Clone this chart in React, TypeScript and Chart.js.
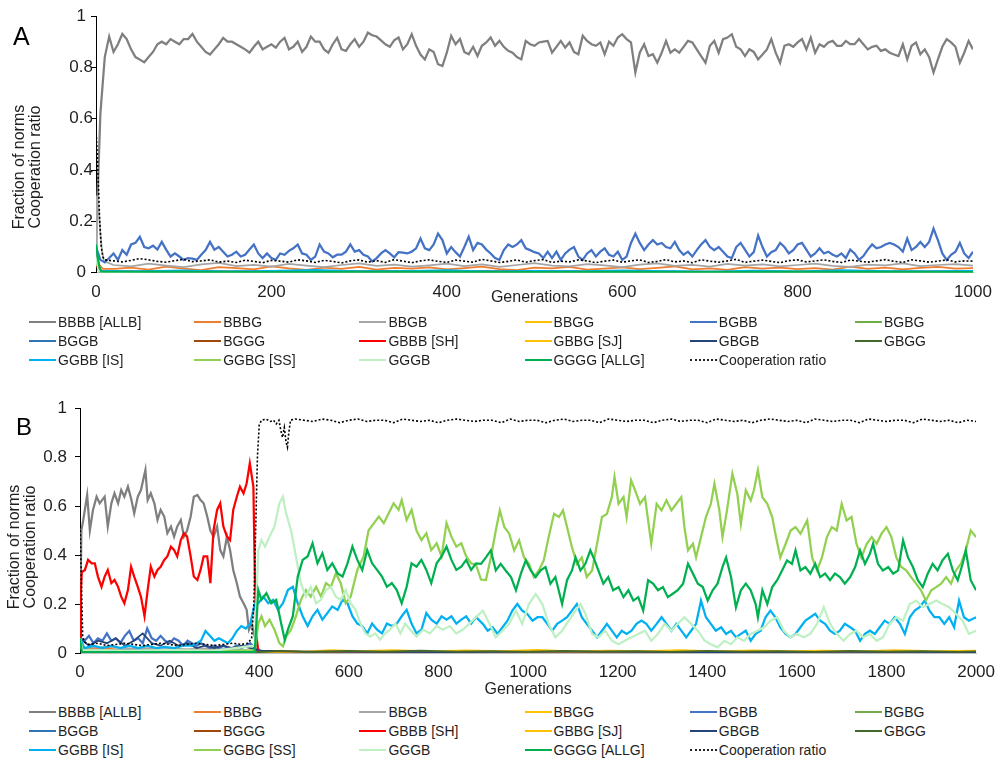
import React, { useEffect, useRef } from "react";
import { Chart, registerables } from "chart.js";
Chart.register(...registerables);

type P = [number, number];
const FONT = '"Liberation Sans", Arial, sans-serif';
const TXT = "#1f1f1f";

// ---------------- Norm names / colours ----------------
const NORM_LABELS = ["BBBB [ALLB]", "BBBG", "BBGB", "BBGG", "BGBB", "BGBG", "BGGB", "BGGG", "GBBB [SH]", "GBBG [SJ]", "GBGB", "GBGG", "GGBB [IS]", "GGBG [SS]", "GGGB", "GGGG [ALLG]"];
const NORM_COLORS = ["#7f7f7f", "#ed7d31", "#a5a5a5", "#ffc000", "#4472c4", "#70ad47", "#2e75b6", "#9e480e", "#ff0000", "#ffc000", "#264478", "#43682b", "#00b0f0", "#92d050", "#bff0c4", "#00b050"];
const COOP_LABEL = "Cooperation ratio";
const X_TICK_STEP = 200;
const Y_TICK_STEP = 0.2;

// ---------------- Panel A data (generations 0..1000) ----------------
// BBBB [ALLB], every 5 generations from 0
const allbA = [
  .12,.62,.84,.92,.86,.89,.93,.91,.87,.84,
  .83,.82,.84,.86,.89,.9,.89,.91,.9,.89,
  .91,.91,.93,.9,.88,.86,.85,.87,.89,.915,
  .9,.9,.89,.88,.87,.857,.88,.9,.87,.88,
  .89,.877,.9,.915,.87,.88,.9,.86,.88,.92,
  .9,.9,.87,.857,.89,.915,.87,.864,.89,.91,
  .88,.9,.935,.925,.92,.905,.89,.88,.905,.916,
  .87,.89,.929,.884,.85,.831,.87,.86,.812,.805,
  .857,.923,.89,.91,.86,.851,.88,.844,.884,.897,
  .916,.884,.903,.88,.864,.857,.84,.831,.903,.89,
  .884,.897,.9,.903,.857,.88,.903,.877,.897,.86,
  .851,.923,.903,.89,.884,.897,.851,.9,.884,.916,
  .929,.91,.897,.78,.857,.89,.844,.851,.818,.857,
  .903,.857,.87,.857,.88,.903,.897,.87,.844,.818,
  .884,.903,.857,.91,.916,.929,.88,.87,.844,.87,
  .86,.831,.85,.87,.91,.857,.818,.884,.89,.88,
  .897,.91,.87,.916,.857,.89,.88,.897,.903,.884,
  .884,.903,.89,.89,.91,.89,.87,.88,.884,.864,
  .87,.857,.85,.844,.89,.831,.884,.897,.851,.87,
  .84,.78,.831,.88,.91,.897,.88,.818,.857,.903,
  .87];
// BGBB, every 5 generations from 0
const bgbbA = [
  .10,.05,.04,.057,.075,.05,.088,.07,.11,.116,
  .14,.10,.095,.105,.09,.12,.09,.063,.075,.063,
  .05,.057,.055,.05,.07,.088,.12,.09,.10,.082,
  .063,.07,.082,.063,.07,.09,.11,.075,.057,.075,
  .057,.05,.075,.07,.085,.095,.11,.075,.07,.05,
  .063,.11,.082,.075,.06,.07,.07,.082,.11,.082,
  .088,.07,.063,.044,.057,.075,.088,.075,.06,.08,
  .078,.075,.082,.095,.133,.095,.088,.11,.152,.127,
  .075,.10,.08,.063,.10,.14,.088,.116,.11,.09,
  .075,.057,.05,.088,.11,.10,.11,.127,.095,.088,
  .08,.075,.057,.082,.057,.082,.05,.075,.09,.10,
  .063,.05,.075,.088,.063,.082,.095,.07,.063,.082,
  .05,.063,.116,.152,.116,.088,.11,.127,.11,.116,
  .10,.095,.12,.088,.07,.082,.063,.088,.11,.127,
  .10,.088,.10,.082,.063,.057,.10,.116,.09,.063,
  .08,.145,.10,.063,.08,.088,.116,.10,.075,.088,
  .11,.116,.09,.063,.075,.095,.075,.082,.07,.063,
  .075,.057,.09,.075,.05,.065,.09,.11,.095,.10,
  .11,.116,.11,.10,.082,.133,.088,.10,.12,.10,
  .12,.172,.127,.075,.05,.07,.082,.116,.075,.057,
  .082];
// Cooperation ratio: start, then every 10 generations from 10
const coopHeadA: P[] = [[0,.56],[2,.42],[4,.22],[6,.1],[8,.06]];
const coopA = [
  .05,.046,.042,.048,.055,.05,.044,.041,.047,.052,
  .043,.046,.05,.041,.045,.04,.049,.044,.039,.048,
  .045,.041,.05,.046,.04,.048,.044,.038,.046,.05,
  .041,.047,.04,.051,.045,.039,.046,.05,.044,.04,
  .049,.045,.041,.052,.046,.04,.044,.05,.041,.047,
  .051,.04,.045,.042,.05,.046,.039,.045,.049,.041,
  .046,.05,.04,.044,.051,.042,.046,.039,.05,.045,
  .041,.046,.052,.04,.045,.049,.044,.039,.047,.05,
  .042,.046,.05,.044,.04,.049,.045,.041,.046,.051,
  .044,.04,.05,.046,.041,.045,.05,.042,.046,.045];
// BBGB: start, then every 20 generations from 20
const bbgbHeadA: P[] = [[0,.06],[1,.3],[3,.25],[5,.15],[7,.08],[9,.045]];
const bbgbA = [
  .03,.025,.035,.028,.022,.032,.038,.026,.03,.024,
  .034,.028,.022,.03,.036,.027,.031,.024,.029,.035,
  .026,.032,.023,.03,.037,.028,.025,.033,.029,.022,
  .031,.036,.027,.03,.024,.034,.028,.032,.025,.03,
  .035,.027,.023,.031,.029,.036,.026,.03,.033,.028];
// BBBG: start, then every 20 generations from 20
const bbbgHeadA: P[] = [[0,.06],[4,.03],[8,.015]];
const bbbgA = [
  .015,.02,.012,.024,.016,.01,.022,.018,.013,.025,
  .017,.011,.02,.015,.023,.012,.019,.016,.021,.013,
  .018,.024,.014,.01,.02,.017,.023,.012,.016,.021,
  .014,.019,.025,.013,.017,.011,.022,.016,.02,.014,
  .018,.012,.024,.015,.02,.013,.019,.023,.016,.018];
// GGBB: start, then every 50 generations from 50
const ggbbHeadA: P[] = [[0,.06],[3,.02],[6,.006]];
const ggbbA = [.004,.008,.003,.006,.01,.004,.005,.009,.003,.006,.004,.008,.005,.003,.007,.004,.009,.005,.004,.006];
// GGGG: start, then every 100 generations from 100
const ggggHeadA: P[] = [[0,.11],[2,.06],[4,.02],[6,.004]];
const ggggA = [.003,.002,.003,.003,.002,.003,.002,.003,.003,.002];
// other near-zero norms (generation, fraction)
const bbggA: P[] = [[0,.06],[3,.02],[6,.004],[200,.003],[400,.004],[600,.003],[800,.004],[1000,.003]];
const bgbgA: P[] = [[0,.06],[3,.015],[6,.003],[300,.002],[600,.003],[1000,.002]];
const bggbA: P[] = [[0,.06],[3,.025],[6,.006],[250,.005],[500,.006],[750,.004],[1000,.005]];
const bgggA: P[] = [[0,.06],[3,.015],[6,.003],[500,.002],[1000,.003]];
const gbbbA: P[] = [[0,.06],[2,.02],[5,.003],[500,.002],[1000,.002]];
const gbbgA: P[] = [[0,.06],[3,.015],[6,.003],[500,.003],[1000,.002]];
const gbgbA: P[] = [[0,.06],[3,.02],[6,.004],[300,.004],[700,.003],[1000,.004]];
const gbggA: P[] = [[0,.06],[3,.015],[6,.003],[500,.002],[1000,.003]];
const ggbgA: P[] = [[0,.06],[3,.01],[6,.002],[1000,.002]];
const gggbA: P[] = [[0,.06],[3,.01],[6,.002],[1000,.002]];

// ---------------- Panel B data (generations 0..2000) ----------------
const allbB: P[] = [[0,.06],[3,.5],[7,.54],[16,.645],[22,.5],[29,.584],[37,.638],[44,.611],[55,.638],[62,.516],[70,.611],[77,.652],[85,.611],[92,.665],[99,.638],[107,.679],[114,.631],[121,.57],[129,.638],[136,.665],[146,.747],[151,.624],[158,.652],[166,.611],[173,.543],[180,.584],[188,.557],[195,.489],[203,.516],[210,.475],[217,.516],[225,.543],[232,.475],[239,.5],[247,.557],[254,.638],[262,.645],[269,.624],[276,.611],[284,.557],[291,.5],[298,.475],[306,.516],[313,.42],[320,.394],[328,.475],[335,.42],[342,.339],[350,.285],[357,.23],[365,.203],[372,.176],[377,.095],[383,.12],[390,.067],[398,.014],[410,.005],[600,.003],[1000,.004],[1400,.003],[2000,.003]];
const shB: P[] = [[0,.06],[2,.25],[4,.33],[11,.339],[18,.38],[26,.366],[33,.366],[40,.312],[48,.27],[55,.312],[62,.339],[70,.285],[77,.298],[85,.27],[92,.23],[99,.203],[107,.257],[114,.352],[121,.312],[129,.27],[136,.23],[144,.15],[151,.257],[158,.352],[166,.312],[173,.339],[180,.352],[188,.38],[195,.394],[203,.434],[210,.42],[217,.394],[225,.461],[232,.489],[239,.475],[247,.394],[254,.312],[262,.298],[269,.339],[276,.394],[284,.394],[291,.285],[298,.5],[306,.584],[313,.611],[320,.516],[328,.475],[335,.461],[342,.584],[350,.638],[357,.679],[365,.652],[372,.693],[379,.774],[387,.679],[390,.339],[394,.067],[398,.005],[500,.003],[1000,.002],[1500,.003],[2000,.002]];
const coopHeadB: P[] = [[0,.55],[3,.3],[6,.07],[10,.045],[20,.035],[40,.04],[60,.03],[80,.035],[100,.04],[120,.035],[140,.03],[160,.035],[180,.04],[200,.035],[220,.03],[240,.035],[260,.04],[280,.035],[300,.03],[320,.035],[340,.04],[360,.035],[375,.04],[383,.06],[388,.2],[392,.5],[396,.8],[400,.93],[405,.95],[415,.955],[425,.945],[432,.95],[438,.935],[444,.95],[448,.91],[452,.88],[456,.92],[460,.86],[463,.84],[466,.9],[470,.95],[480,.955]];
// cooperation ratio every 20 generations from 500
const coopB = [
  .95,.945,.955,.95,.94,.95,.955,.945,.95,.95,
  .94,.955,.95,.945,.95,.94,.95,.955,.95,.945,
  .95,.95,.94,.955,.945,.95,.95,.94,.95,.955,
  .945,.95,.95,.94,.955,.95,.945,.95,.95,.94,
  .95,.955,.945,.95,.95,.94,.955,.95,.945,.95,
  .94,.95,.955,.95,.945,.95,.94,.955,.95,.945,
  .95,.95,.94,.955,.95,.945,.95,.95,.94,.955,
  .95,.945,.95,.94,.95,.945];
const ssB: P[] = [[0,.06],[5,.012],[100,.008],[200,.01],[300,.008],[390,.012],[398,.12],[405,.15],[413,.11],[423,.136],[434,.095],[445,.04],[453,.027],[460,.067],[471,.095],[482,.15],[493,.217],[504,.257],[515,.23],[527,.27],[538,.23],[549,.285],[560,.27],[571,.325],[582,.285],[593,.203],[604,.23],[619,.339],[633,.394],[644,.5],[656,.53],[667,.557],[678,.53],[689,.57],[700,.611],[711,.584],[718,.624],[729,.543],[740,.584],[751,.5],[762,.461],[773,.489],[784,.42],[796,.448],[807,.394],[818,.53],[829,.475],[840,.434],[851,.448],[862,.394],[873,.366],[884,.36],[895,.3],[906,.298],[917,.39],[928,.5],[937,.582],[947,.514],[958,.487],[969,.419],[980,.46],[991,.39],[1002,.364],[1013,.31],[1024,.337],[1035,.378],[1046,.473],[1058,.568],[1069,.555],[1078,.582],[1087,.514],[1098,.432],[1109,.364],[1120,.39],[1131,.31],[1143,.337],[1154,.446],[1165,.555],[1176,.568],[1187,.636],[1193,.718],[1202,.609],[1213,.636],[1220,.555],[1230,.705],[1239,.664],[1250,.609],[1261,.636],[1268,.541],[1275,.446],[1287,.609],[1298,.582],[1309,.623],[1320,.582],[1331,.609],[1342,.636],[1349,.514],[1357,.419],[1368,.446],[1375,.39],[1386,.473],[1397,.555],[1408,.609],[1416,.691],[1427,.582],[1434,.473],[1444,.582],[1456,.732],[1467,.65],[1475,.527],[1486,.664],[1497,.623],[1504,.664],[1513,.746],[1523,.636],[1534,.609],[1545,.555],[1552,.487],[1563,.39],[1575,.446],[1586,.5],[1597,.514],[1608,.487],[1623,.541],[1634,.39],[1645,.337],[1656,.39],[1667,.473],[1678,.514],[1689,.5],[1700,.609],[1711,.541],[1722,.555],[1733,.446],[1744,.39],[1756,.446],[1767,.473],[1778,.446],[1789,.487],[1800,.514],[1811,.473],[1822,.39],[1833,.351],[1844,.337],[1855,.31],[1866,.283],[1877,.256],[1888,.214],[1900,.256],[1911,.269],[1922,.283],[1933,.31],[1944,.283],[1955,.337],[1966,.364],[1977,.419],[1988,.5],[2000,.473]];
const allgB: P[] = [[0,.06],[4,.005],[390,.004],[398,.257],[405,.217],[416,.244],[427,.203],[438,.217],[449,.12],[457,.054],[464,.095],[475,.15],[486,.312],[497,.38],[508,.394],[519,.448],[530,.366],[541,.407],[552,.339],[563,.366],[575,.325],[586,.312],[597,.366],[608,.434],[619,.38],[630,.339],[641,.42],[652,.366],[663,.339],[674,.312],[685,.27],[696,.285],[707,.257],[718,.203],[729,.27],[740,.366],[751,.352],[762,.38],[773,.339],[784,.285],[796,.366],[807,.394],[818,.434],[829,.38],[840,.339],[851,.352],[862,.38],[873,.339],[884,.366],[895,.364],[906,.39],[917,.419],[928,.337],[939,.364],[950,.337],[962,.31],[973,.256],[984,.324],[995,.378],[1006,.337],[1017,.31],[1028,.337],[1039,.351],[1050,.283],[1061,.31],[1076,.2],[1087,.297],[1098,.337],[1106,.39],[1117,.337],[1128,.364],[1139,.419],[1146,.39],[1157,.337],[1168,.283],[1179,.31],[1190,.256],[1202,.269],[1213,.228],[1224,.256],[1235,.214],[1246,.228],[1257,.173],[1268,.297],[1279,.283],[1290,.256],[1301,.269],[1312,.228],[1323,.242],[1334,.256],[1346,.283],[1357,.364],[1368,.324],[1379,.283],[1390,.269],[1401,.214],[1412,.256],[1423,.283],[1434,.351],[1442,.39],[1453,.31],[1464,.186],[1475,.256],[1486,.283],[1497,.256],[1508,.2],[1513,.146],[1523,.256],[1534,.2],[1545,.269],[1556,.297],[1567,.337],[1578,.378],[1589,.364],[1597,.419],[1608,.337],[1619,.351],[1630,.324],[1641,.364],[1652,.31],[1663,.324],[1674,.297],[1685,.324],[1696,.31],[1707,.283],[1719,.31],[1730,.351],[1741,.419],[1752,.364],[1763,.405],[1770,.446],[1781,.364],[1792,.337],[1804,.351],[1815,.324],[1826,.337],[1837,.46],[1848,.39],[1859,.351],[1870,.297],[1881,.269],[1892,.324],[1903,.364],[1914,.337],[1925,.378],[1937,.405],[1948,.337],[1959,.297],[1970,.364],[1977,.419],[1988,.297],[2000,.256]];
const isB: P[] = [[0,.06],[10,.02],[30,.03],[50,.02],[70,.03],[90,.02],[110,.03],[130,.02],[150,.03],[170,.02],[190,.025],[210,.02],[230,.03],[250,.03],[270,.05],[280,.09],[290,.07],[300,.05],[310,.06],[320,.05],[330,.04],[340,.06],[350,.09],[360,.11],[370,.1],[380,.12],[390,.2],[398,.203],[409,.23],[420,.203],[431,.217],[442,.176],[453,.203],[464,.257],[475,.27],[486,.203],[497,.15],[508,.11],[519,.15],[530,.176],[541,.136],[552,.163],[563,.19],[575,.176],[586,.217],[597,.203],[608,.15],[619,.12],[630,.11],[641,.08],[652,.12],[663,.095],[674,.08],[685,.12],[696,.11],[707,.12],[718,.15],[729,.176],[740,.12],[751,.08],[762,.095],[773,.163],[784,.136],[796,.12],[807,.15],[818,.136],[829,.15],[840,.12],[851,.136],[862,.15],[873,.12],[884,.146],[899,.119],[910,.091],[921,.105],[932,.078],[943,.105],[954,.132],[965,.173],[976,.2],[987,.173],[998,.16],[1010,.132],[1021,.146],[1032,.146],[1043,.119],[1054,.091],[1065,.119],[1076,.132],[1087,.146],[1098,.173],[1109,.2],[1120,.146],[1131,.119],[1143,.091],[1154,.064],[1165,.091],[1176,.119],[1187,.091],[1198,.064],[1209,.091],[1220,.078],[1231,.091],[1242,.119],[1253,.132],[1264,.119],[1275,.091],[1287,.119],[1298,.146],[1309,.119],[1320,.091],[1331,.119],[1342,.091],[1353,.064],[1364,.091],[1375,.119],[1386,.214],[1397,.146],[1408,.119],[1419,.091],[1431,.105],[1442,.078],[1453,.091],[1464,.064],[1475,.078],[1486,.091],[1497,.05],[1508,.078],[1519,.091],[1530,.146],[1541,.173],[1552,.146],[1563,.105],[1575,.078],[1586,.064],[1597,.078],[1608,.105],[1619,.132],[1630,.146],[1641,.16],[1652,.132],[1663,.119],[1674,.091],[1685,.078],[1696,.091],[1707,.119],[1719,.105],[1730,.091],[1741,.05],[1752,.078],[1763,.091],[1774,.078],[1785,.105],[1796,.132],[1807,.119],[1818,.146],[1830,.119],[1841,.078],[1852,.146],[1863,.173],[1874,.187],[1885,.214],[1896,.173],[1907,.146],[1918,.146],[1929,.119],[1940,.146],[1951,.105],[1962,.214],[1973,.146],[1984,.132],[2000,.146]];
const gggbB: P[] = [[0,.06],[5,.012],[100,.01],[200,.012],[300,.01],[390,.03],[398,.42],[405,.461],[413,.434],[423,.475],[434,.516],[445,.611],[453,.638],[460,.57],[471,.5],[482,.394],[493,.285],[504,.23],[515,.27],[527,.203],[538,.217],[549,.257],[560,.27],[571,.23],[582,.217],[593,.257],[604,.203],[615,.176],[626,.12],[637,.08],[648,.067],[659,.08],[670,.054],[681,.08],[692,.095],[704,.12],[715,.08],[726,.12],[737,.095],[751,.067],[766,.095],[781,.08],[796,.11],[810,.095],[825,.11],[840,.08],[854,.095],[869,.12],[884,.146],[899,.173],[914,.119],[928,.064],[943,.091],[958,.119],[973,.173],[987,.119],[1002,.2],[1017,.241],[1032,.2],[1046,.119],[1061,.064],[1076,.091],[1091,.132],[1106,.173],[1117,.2],[1128,.16],[1143,.078],[1157,.064],[1172,.091],[1187,.05],[1202,.036],[1216,.05],[1231,.064],[1246,.078],[1261,.091],[1275,.05],[1290,.078],[1305,.119],[1320,.091],[1334,.119],[1349,.146],[1364,.119],[1379,.091],[1394,.05],[1408,.036],[1423,.023],[1438,.05],[1453,.036],[1467,.064],[1482,.05],[1497,.078],[1512,.091],[1527,.105],[1541,.132],[1556,.146],[1571,.091],[1586,.064],[1600,.078],[1615,.064],[1630,.078],[1645,.119],[1660,.187],[1674,.119],[1689,.078],[1704,.05],[1719,.078],[1733,.091],[1748,.064],[1763,.078],[1778,.05],[1792,.064],[1807,.119],[1822,.146],[1837,.132],[1852,.2],[1866,.214],[1881,.187],[1896,.2],[1911,.214],[1925,.2],[1940,.187],[1955,.16],[1970,.132],[1984,.078],[2000,.091]];
// BGBB every 10 generations 0..400, then a tail
const bgbbHeadB = [
  .06,.05,.07,.04,.06,.05,.08,.05,.06,.04,
  .07,.09,.05,.06,.04,.1,.06,.05,.07,.05,
  .04,.06,.05,.03,.05,.04,.03,.04,.03,.02,
  .03,.02,.03,.02,.02,.03,.02,.03,.04,.02,
  .005];
const bgbbTailB: P[] = [[600,.004],[1000,.003],[1400,.004],[2000,.003]];
// GBGB every 20 generations 0..400, then a tail
const gbgbHeadB = [.06,.03,.05,.04,.06,.03,.05,.08,.04,.03,.05,.03,.04,.02,.03,.02,.03,.02,.03,.02,.01];
const gbgbTailB: P[] = [[500,.006],[800,.004],[1100,.006],[1400,.004],[1700,.005],[2000,.004]];
const bbbgB: P[] = [[0,.06],[5,.015],[50,.02],[100,.012],[150,.018],[200,.01],[250,.015],[300,.012],[350,.01],[395,.008],[420,.004],[600,.003],[800,.004],[1000,.003],[1200,.004],[1400,.003],[1600,.004],[1800,.003],[2000,.003]];
const bbgbB: P[] = [[0,.06],[5,.02],[60,.025],[120,.018],[180,.022],[240,.015],[300,.02],[360,.012],[398,.004],[700,.002],[1300,.003],[2000,.002]];
const bbggB: P[] = [[0,.06],[5,.008],[100,.01],[200,.006],[300,.009],[398,.006],[450,.01],[500,.006],[560,.012],[620,.008],[700,.012],[780,.007],[860,.011],[940,.008],[1020,.013],[1100,.007],[1180,.01],[1260,.008],[1340,.012],[1420,.007],[1500,.011],[1580,.008],[1660,.01],[1740,.007],[1820,.012],[1900,.008],[2000,.01]];
const bgbgB: P[] = [[0,.06],[5,.004],[400,.004],[1000,.003],[2000,.003]];
const bggbB: P[] = [[0,.06],[5,.01],[150,.012],[300,.008],[398,.003],[1000,.003],[2000,.002]];
const bgggB: P[] = [[0,.06],[5,.004],[400,.005],[1000,.003],[2000,.004]];
const gbbgB: P[] = [[0,.06],[5,.006],[200,.005],[398,.004],[600,.006],[1000,.005],[1400,.006],[2000,.005]];
const gbggB: P[] = [[0,.06],[5,.004],[398,.004],[450,.008],[520,.005],[600,.009],[680,.006],[760,.01],[840,.006],[920,.008],[1000,.005],[1080,.009],[1160,.006],[1240,.008],[1320,.005],[1400,.009],[1480,.006],[1560,.008],[1640,.005],[1720,.009],[1800,.006],[1880,.008],[1960,.005],[2000,.007]];

// ---------------- helpers ----------------
const fromGrid = (start: number, step: number, ys: number[]) => ys.map((y, i) => ({ x: start + i * step, y }));
const fromPairs = (ps: P[]) => ps.map(([x, y]) => ({ x, y }));

const seriesA = [
  fromGrid(0, 5, allbA),
  [...fromPairs(bbbgHeadA), ...fromGrid(20, 20, bbbgA)],
  [...fromPairs(bbgbHeadA), ...fromGrid(20, 20, bbgbA)],
  fromPairs(bbggA),
  fromGrid(0, 5, bgbbA),
  fromPairs(bgbgA),
  fromPairs(bggbA),
  fromPairs(bgggA),
  fromPairs(gbbbA),
  fromPairs(gbbgA),
  fromPairs(gbgbA),
  fromPairs(gbggA),
  [...fromPairs(ggbbHeadA), ...fromGrid(50, 50, ggbbA)],
  fromPairs(ggbgA),
  fromPairs(gggbA),
  [...fromPairs(ggggHeadA), ...fromGrid(100, 100, ggggA)],
];
const coopSeriesA = [...fromPairs(coopHeadA), ...fromGrid(10, 10, coopA)];

const seriesB = [
  fromPairs(allbB),
  fromPairs(bbbgB),
  fromPairs(bbgbB),
  fromPairs(bbggB),
  [...fromGrid(0, 10, bgbbHeadB), ...fromPairs(bgbbTailB)],
  fromPairs(bgbgB),
  fromPairs(bggbB),
  fromPairs(bgggB),
  fromPairs(shB),
  fromPairs(gbbgB),
  [...fromGrid(0, 20, gbgbHeadB), ...fromPairs(gbgbTailB)],
  fromPairs(gbggB),
  fromPairs(isB),
  fromPairs(ssB),
  fromPairs(gggbB),
  fromPairs(allgB),
];
const coopSeriesB = [...fromPairs(coopHeadB), ...fromGrid(500, 20, coopB)];

const MAJOR = new Set([0, 4, 8, 12, 13, 14, 15]);

function buildDatasets(series: { x: number; y: number }[][], coop: { x: number; y: number }[]) {
  const ds: any[] = series.map((data, i) => ({
    label: NORM_LABELS[i],
    data,
    borderColor: NORM_COLORS[i],
    backgroundColor: NORM_COLORS[i],
    borderWidth: MAJOR.has(i) ? 2.25 : 1.75,
    pointRadius: 0,
    tension: 0,
    fill: false,
    order: 40 - i,
  }));
  ds.push({
    label: COOP_LABEL,
    data: coop,
    borderColor: "#000",
    backgroundColor: "#000",
    borderWidth: 1.6,
    borderDash: [2, 2],
    pointRadius: 0,
    tension: 0,
    fill: false,
    order: 0,
  });
  return ds;
}

type Geom = {
  xMax: number; padTop: number; padRight: number; padBottom: number;
  yAxisW: number; xAxisH: number; xTickPad: number; yTickPad: number; yAlign: "near" | "center";
};

const fmtX = (v: number | string) => String(Math.round(Number(v)));
const fmtY = (v: number | string) => String(Number(Number(v).toFixed(1)));

function makeConfig(datasets: any[], g: Geom): any {
  return {
    type: "line",
    data: { datasets },
    options: {
      responsive: false,
      animation: false,
      events: [],
      layout: { padding: { left: 0, right: g.padRight, top: g.padTop, bottom: g.padBottom } },
      plugins: { legend: { display: false }, tooltip: { enabled: false }, title: { display: false } },
      scales: {
        x: {
          type: "linear",
          min: 0,
          max: g.xMax,
          ticks: { stepSize: X_TICK_STEP, padding: g.xTickPad, color: TXT, font: { family: FONT, size: 17 }, maxRotation: 0, autoSkip: false, callback: fmtX },
          grid: { display: false, drawTicks: false },
          border: { display: true, color: "#bfbfbf", width: 1 },
          title: { display: true, text: "Generations", color: TXT, font: { family: FONT, size: 16 }, padding: 0 },
          afterFit: (s: any) => { s.height = g.xAxisH; },
        },
        y: {
          type: "linear",
          min: 0,
          max: 1,
          ticks: { stepSize: Y_TICK_STEP, padding: g.yTickPad, crossAlign: g.yAlign, color: TXT, font: { family: FONT, size: 17 }, callback: fmtY },
          grid: { display: true, drawOnChartArea: false, drawTicks: true, tickLength: 5, color: "#000", lineWidth: 1 },
          border: { display: true, color: "#000", width: 1 },
          afterFit: (s: any) => { s.width = g.yAxisW; },
        },
      },
    },
  };
}

const geomA: Geom = { xMax: 1000, padTop: 16, padRight: 31, padBottom: 2.7, yAxisW: 96, xAxisH: 34.6, xTickPad: 9, yTickPad: -2, yAlign: "center" };
const geomB: Geom = { xMax: 2000, padTop: 38, padRight: 19, padBottom: 2.4, yAxisW: 80, xAxisH: 46.6, xTickPad: 9, yTickPad: 8, yAlign: "near" };

// ---------------- HTML parts ----------------
const LEGEND_ITEMS = [...NORM_LABELS.map((l, i) => ({ label: l, color: NORM_COLORS[i], dotted: false })), { label: COOP_LABEL, color: "#000", dotted: true }];

function Legend({ rows }: { rows: number[] }) {
  return (
    <>
      {LEGEND_ITEMS.map((it, i) => {
        const c = i % 6;
        const r = Math.floor(i / 6);
        return (
          <div key={i} style={{ position: "absolute", left: 29 + c * 165.2, top: rows[r] - 9, height: 18, display: "flex", alignItems: "center", whiteSpace: "nowrap" }}>
            <div style={{ width: 27, height: 0, borderTop: it.dotted ? "2px dotted #222" : `2px solid ${it.color}` }} />
            <span style={{ marginLeft: 2, fontSize: 14, lineHeight: "18px", color: TXT, fontFamily: FONT }}>{it.label}</span>
          </div>
        );
      })}
    </>
  );
}

function YTitle({ cx, cy }: { cx: number; cy: number }) {
  return (
    <div style={{ position: "absolute", left: cx, top: cy, transform: "translate(-50%, -50%) rotate(-90deg)", whiteSpace: "nowrap", textAlign: "center", fontSize: 16, lineHeight: "16px", color: TXT, fontFamily: FONT }}>
      <div>Fraction of norms</div>
      <div>Cooperation ratio</div>
    </div>
  );
}

export default function App() {
  const refA = useRef<HTMLCanvasElement>(null);
  const refB = useRef<HTMLCanvasElement>(null);
  useEffect(() => {
    const a = new Chart(refA.current as HTMLCanvasElement, makeConfig(buildDatasets(seriesA, coopSeriesA), geomA));
    const b = new Chart(refB.current as HTMLCanvasElement, makeConfig(buildDatasets(seriesB, coopSeriesB), geomB));
    return () => { a.destroy(); b.destroy(); };
  }, []);
  return (
    <div style={{ position: "absolute", left: 0, top: 0, width: 1004, height: 761, background: "#fff", overflow: "hidden", fontFamily: FONT }}>
      <canvas ref={refA} width={1004} height={310} style={{ position: "absolute", left: 0, top: 0, width: 1004, height: 310 }} />
      <canvas ref={refB} width={1004} height={332} style={{ position: "absolute", left: 0, top: 370, width: 1004, height: 332 }} />
      <div style={{ position: "absolute", left: 13, top: 23.7, fontSize: 25, lineHeight: "25px", color: "#000", fontFamily: FONT }}>A</div>
      <div style={{ position: "absolute", left: 16, top: 415, fontSize: 24, lineHeight: "24px", color: "#000", fontFamily: FONT }}>B</div>
      <YTitle cx={26.5} cy={167} />
      <YTitle cx={22} cy={547} />
      <Legend rows={[321.5, 340.5, 359.5]} />
      <Legend rows={[712, 731, 750]} />
    </div>
  );
}
